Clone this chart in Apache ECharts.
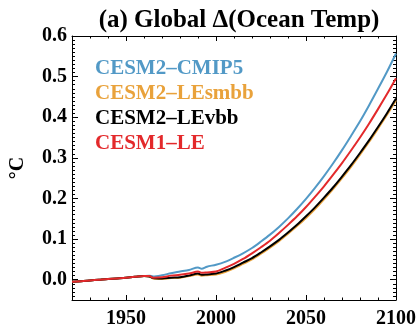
<!DOCTYPE html>
<html lang="en">
<head>
    <meta charset="UTF-8">
    <title>Global Ocean Temp</title>
    <style>
        html, body { margin: 0; padding: 0; background: #fff; }
        #main { width: 419px; height: 335px; }
    </style>
</head>
<body>
    <div id="main"></div>

    <script src="https://cdn.jsdelivr.net/npm/echarts@6/dist/echarts.min.js"></script>
    <script>
        // years shared by every run
        var years = [1920, 1925, 1930, 1935, 1940, 1945, 1950, 1955, 1960, 1963, 1965, 1970, 1975, 1980, 1985, 1990, 1992, 1995,
                     2000, 2005, 2010, 2015, 2020, 2025, 2030, 2035, 2040, 2045, 2050, 2055, 2060, 2065, 2070, 2075, 2080, 2085, 2090, 2095, 2100];

        var cmip5  = [-0.005, -0.004, -0.002, 0.000, 0.002, 0.003, 0.005, 0.007, 0.009, 0.010, 0.008, 0.011, 0.016, 0.020, 0.024, 0.030, 0.027, 0.032,
                      0.037, 0.044, 0.054, 0.065, 0.078, 0.094, 0.111, 0.130, 0.151, 0.174, 0.199, 0.226, 0.255, 0.286, 0.319, 0.354, 0.390, 0.429, 0.470, 0.512, 0.557];
        var lesmbb = [-0.005, -0.004, -0.002, 0.000, 0.002, 0.003, 0.005, 0.007, 0.009, 0.008, 0.003, 0.002, 0.004, 0.005, 0.009, 0.013, 0.010, 0.011,
                      0.013, 0.019, 0.028, 0.039, 0.050, 0.064, 0.079, 0.095, 0.113, 0.132, 0.152, 0.174, 0.198, 0.223, 0.250, 0.278, 0.308, 0.339, 0.372, 0.406, 0.442];
        var levbb  = [-0.005, -0.004, -0.002, 0.000, 0.002, 0.003, 0.005, 0.007, 0.009, 0.008, 0.004, 0.003, 0.005, 0.006, 0.010, 0.015, 0.012, 0.013,
                      0.015, 0.022, 0.031, 0.042, 0.053, 0.067, 0.082, 0.098, 0.116, 0.135, 0.156, 0.178, 0.202, 0.227, 0.254, 0.282, 0.312, 0.343, 0.376, 0.410, 0.446];
        var cesm1  = [-0.005, -0.004, -0.002, 0.000, 0.002, 0.003, 0.005, 0.007, 0.009, 0.009, 0.005, 0.006, 0.010, 0.012, 0.015, 0.020, 0.017, 0.018,
                      0.020, 0.029, 0.039, 0.051, 0.065, 0.080, 0.096, 0.115, 0.135, 0.156, 0.179, 0.204, 0.230, 0.258, 0.287, 0.318, 0.350, 0.384, 0.420, 0.457, 0.496];

        var xMajor = [1950, 2000, 2050, 2100];
        var yMajor = [0, 0.1, 0.2, 0.3, 0.4, 0.5, 0.6];

        var names  = ['CESM2\u2013CMIP5', 'CESM2\u2013LEsmbb', 'CESM2\u2013LEvbb', 'CESM1\u2013LE'];
        var colors = ['#5299c6', '#e9a23b', '#000000', '#e3292b'];
        var runs   = [cmip5, lesmbb, levbb, cesm1];

        function pairs(vals) {
            return years.map(function (y, i) { return [y, vals[i]]; });
        }

        var serif = 'Liberation Serif';

        // major axis (labels + long ticks) and minor axis (short ticks) per side
        function xAx(pos, major, labels) {
            return {
                type: 'value', position: pos, min: 1920, max: 2100,
                interval: major ? undefined : 10,
                axisLine: { show: major, onZero: false, lineStyle: { color: '#000', width: 1 } },
                axisTick: major ? { inside: true, length: 5, customValues: xMajor, lineStyle: { color: '#000' } }
                                : { inside: true, length: 2.5, lineStyle: { color: '#000' } },
                axisLabel: major && labels ? {
                    customValues: xMajor, margin: 9,
                    formatter: function (v) { return String(v); },
                    fontFamily: serif, fontWeight: 'bold', fontSize: 20, color: '#000'
                } : { show: false },
                splitLine: { show: false }
            };
        }
        function yAx(pos, major, labels) {
            var a = {
                type: 'value', position: pos, min: -0.05, max: 0.6,
                interval: major ? undefined : 0.01,
                axisLine: { show: major, onZero: false, lineStyle: { color: '#000', width: 1 } },
                axisTick: major ? { inside: true, length: 6, customValues: yMajor, lineStyle: { color: '#000' } }
                                : { inside: true, length: 3, lineStyle: { color: '#000' } },
                axisLabel: major && labels ? {
                    customValues: yMajor, margin: 5,
                    formatter: function (v) { return v.toFixed(1); },
                    fontFamily: serif, fontWeight: 'bold', fontSize: 20, color: '#000'
                } : { show: false },
                splitLine: { show: false }
            };
            if (labels) {
                a.name = '\u00b0C';
                a.nameLocation = 'middle';
                a.nameRotate = 90;
                a.nameGap = 44;
                a.nameTextStyle = { fontFamily: serif, fontWeight: 'bold', fontSize: 20, color: '#000' };
            }
            return a;
        }

        var mychart = echarts.init(document.getElementById('main'), null, { renderer: 'canvas' });

        var option = {
            animation: false,
            backgroundColor: '#fff',
            title: {
                text: '(a) Global \u0394(Ocean Temp)',
                left: 234, top: 3, textAlign: 'center',
                textStyle: { fontFamily: serif, fontWeight: 'bold', fontSize: 25, color: '#000' }
            },
            grid: { left: 71, right: 22, top: 36, bottom: 35 },
            legend: {
                orient: 'vertical', left: 90, top: 57, padding: 0,
                icon: 'none', itemWidth: 0, itemHeight: 14, itemGap: 1,
                selectedMode: false,
                data: names.map(function (n, i) {
                    return { name: n, textStyle: { color: colors[i] } };
                }),
                textStyle: { fontFamily: serif, fontWeight: 'bold', fontSize: 21, lineHeight: 24 }
            },
            xAxis: [xAx('bottom', true, true), xAx('bottom', false), xAx('top', true, false), xAx('top', false)],
            yAxis: [yAx('left', true, true), yAx('left', false), yAx('right', true, false), yAx('right', false)],
            series: [0, 1, 2, 3].map(function (i) {
                return {
                    name: names[i], type: 'line',
                    xAxisIndex: 0, yAxisIndex: 0,
                    data: pairs(runs[i]),
                    showSymbol: false, smooth: 0.3,
                    z: [2, 3, 4, 5][i],
                    lineStyle: { color: colors[i], width: 2 },
                    itemStyle: { color: colors[i] }
                };
            })
        };
        option && mychart.setOption(option);
    </script>
</body>
</html>
